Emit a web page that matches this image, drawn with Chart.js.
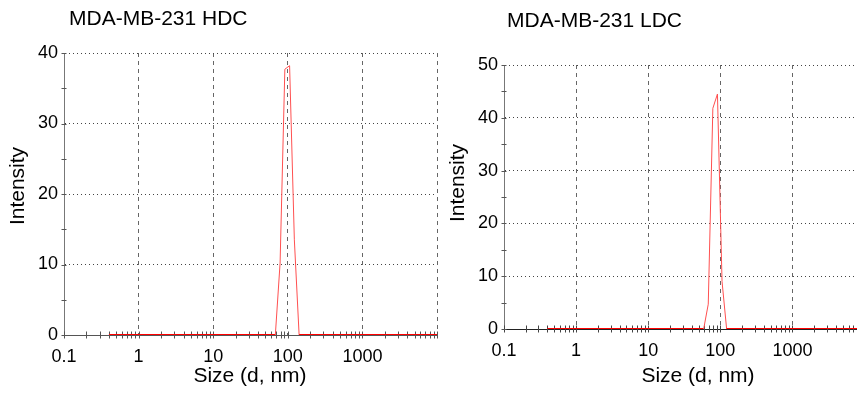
<!DOCTYPE html>
<html>
<head>
<meta charset="utf-8">
<script src="https://cdn.jsdelivr.net/npm/chart.js@4/dist/chart.umd.min.js"></script>
<style>
  html, body { margin: 0; padding: 0; background: #fff; overflow: hidden; }
  #wrap { position: relative; width: 857px; height: 394px; overflow: hidden; background: #fff; }
  .box { position: absolute; top: 0; height: 394px; }
</style>
</head>
<body>
<div id="wrap">
  <div class="box" style="left:0;width:448px"><canvas id="c1"></canvas></div>
  <div class="box" style="left:440px;width:417px"><canvas id="c2"></canvas></div>
</div>
<script>
// ---- data ----
const SIZES = [
  0.4, 0.4632, 0.5365, 0.6213, 0.7195, 0.8332, 0.9649, 1.117, 1.294, 1.499,
  1.736, 2.01, 2.328, 2.696, 3.122, 3.615, 4.187, 4.849, 5.615, 6.503,
  7.531, 8.721, 10.1, 11.7, 13.54, 15.69, 18.17, 21.04, 24.36, 28.21,
  32.67, 37.84, 43.82, 50.75, 58.77, 68.06, 78.82, 91.28, 105.7, 122.4,
  141.8, 164.2, 190.1, 220.2, 255.0, 295.3, 342.0, 396.1, 458.7, 531.2,
  615.1, 712.4, 825.0, 955.4, 1106, 1281, 1484, 1718, 1990, 2305,
  2669, 3091, 3580, 4145, 4801, 5560, 6439, 7456, 8635, 10000
];
const HDC_INTENSITY = [
  0, 0, 0, 0, 0, 0, 0, 0, 0, 0,
  0, 0, 0, 0, 0, 0, 0, 0, 0, 0,
  0, 0, 0, 0, 0, 0, 0, 0, 0, 0,
  0, 0, 0, 0, 0, 0, 10.2, 37.7, 38.2, 13.5,
  0, 0, 0, 0, 0, 0, 0, 0, 0, 0,
  0, 0, 0, 0, 0, 0, 0, 0, 0, 0,
  0, 0, 0, 0, 0, 0, 0, 0, 0, 0
];
const LDC_INTENSITY = [
  0, 0, 0, 0, 0, 0, 0, 0, 0, 0,
  0, 0, 0, 0, 0, 0, 0, 0, 0, 0,
  0, 0, 0, 0, 0, 0, 0, 0, 0, 0,
  0, 0, 0, 0, 0, 4.7, 41.8, 44.5, 9.0, 0,
  0, 0, 0, 0, 0, 0, 0, 0, 0, 0,
  0, 0, 0, 0, 0, 0, 0, 0, 0, 0,
  0, 0, 0, 0, 0, 0, 0, 0, 0, 0
];
const CHART_TITLES = ['MDA-MB-231 HDC', 'MDA-MB-231 LDC'];
const X_TITLE = 'Size (d, nm)';
const Y_TITLE = 'Intensity';
const X_TICK_VALUES = [0.1, 1, 10, 100, 1000, 10000];
const X_TICK_LABELS = ['0.1', '1', '10', '100', '1000', ''];
const HDC_Y_TICKS = [0, 10, 20, 30, 40];
const LDC_Y_TICKS = [0, 10, 20, 30, 40, 50];

const FONT = "'Liberation Sans', Arial, Helvetica, sans-serif";

// ---- decoration plugin: minor ticks and texts ----
const decor = {
  id: 'decor',
  beforeDatasetsDraw(chart, args, o) {
    const ctx = chart.ctx, xs = chart.scales.x, ys = chart.scales.y, a = chart.chartArea;
    ctx.save();
    ctx.lineWidth = 1;
    ctx.strokeStyle = o.xTickColor;
    ctx.beginPath();
    for (let d = xs.min; d < xs.max * 1.0001; d *= 10) {
      for (let k = 1; k <= 9; k++) {
        const v = d * k;
        if (v > xs.max * 1.0001) break;
        const px = Math.round(xs.getPixelForValue(v)) + 0.5;
        if (px > a.right + 1) break;
        ctx.moveTo(px, a.bottom - 3.5);
        ctx.lineTo(px, a.bottom + 3.5);
      }
    }
    ctx.stroke();
    ctx.strokeStyle = o.yTickColor;
    ctx.beginPath();
    const yt = ys.ticks.map(t => t.value);
    for (let i = 0; i < yt.length; i++) {
      const vals = [yt[i]];
      if (i + 1 < yt.length) vals.push((yt[i] + yt[i + 1]) / 2);
      for (const v of vals) {
        const py = Math.round(ys.getPixelForValue(v)) + 0.5;
        ctx.moveTo(a.left - 2.5, py);
        ctx.lineTo(a.left + 2.5, py);
      }
    }
    ctx.stroke();
    ctx.restore();
  },
  afterDraw(chart, args, o) {
    const ctx = chart.ctx;
    ctx.save();
    ctx.fillStyle = '#000';
    ctx.font = o.titleFont;
    ctx.textAlign = 'left';
    ctx.textBaseline = 'alphabetic';
    ctx.fillText(o.title, o.titlePos[0], o.titlePos[1]);
    ctx.font = o.axisFont;
    ctx.textAlign = 'center';
    ctx.fillText(o.xTitle, o.xTitlePos[0], o.xTitlePos[1]);
    ctx.translate(o.yTitlePos[0], o.yTitlePos[1]);
    ctx.rotate(-Math.PI / 2);
    ctx.textBaseline = 'middle';
    ctx.fillText(o.yTitle, 0, 0);
    ctx.restore();
  }
};

const isBase = c => c.p0.parsed.y === 0 && c.p1.parsed.y === 0;

function makeChart(id, values, yTicks, xMax, opts) {
  const pts = SIZES.map((s, i) => ({ x: s, y: values[i] }));
  return new Chart(document.getElementById(id), {
    type: 'line',
    data: {
      datasets: [{
        data: pts,
        borderColor: '#ff0000',
        borderWidth: 1,
        pointRadius: 0,
        tension: 0,
        fill: false,
        segment: {
          borderWidth: c => isBase(c) ? 2 : 1,
          borderColor: c => isBase(c) ? '#ff0000' : '#ff5050'
        }
      }]
    },
    options: {
      responsive: true,
      maintainAspectRatio: false,
      animation: false,
      devicePixelRatio: 1,
      layout: { padding: opts.padding },
      plugins: {
        legend: { display: false },
        tooltip: { enabled: false },
        title: { display: false },
        decor: opts.decor
      },
      scales: {
        x: {
          type: 'logarithmic',
          min: 0.1,
          max: xMax,
          afterBuildTicks: s => { s.ticks = X_TICK_VALUES.filter(v => v <= xMax * 1.0001).map(v => ({ value: v })); },
          afterFit: s => { s.height = opts.xHeight; },
          ticks: {
            autoSkip: false,
            maxRotation: 0,
            padding: 11,
            color: '#000',
            font: { family: FONT, size: 18 },
            callback: v => { const i = X_TICK_VALUES.findIndex(t => Math.abs(t - v) / t < 1e-6); return i >= 0 ? X_TICK_LABELS[i] : ''; }
          },
          grid: { color: '#666', lineWidth: 1, drawTicks: false },
          border: { display: true, color: opts.xAxisColor, width: 1, dash: [4, 4] },
          title: { display: false }
        },
        y: {
          type: 'linear',
          min: yTicks[0],
          max: yTicks[yTicks.length - 1],
          afterBuildTicks: s => { s.ticks = yTicks.map(v => ({ value: v })); },
          afterFit: s => { s.width = 64; },
          ticks: {
            padding: 6,
            color: '#000',
            font: { family: FONT, size: 18 },
            callback: v => String(v)
          },
          grid: { color: '#444', lineWidth: 1, drawTicks: false },
          border: { display: true, color: '#777', width: 1, dash: [1, 3] },
          title: { display: false }
        }
      }
    },
    plugins: [decor]
  });
}

makeChart('c1', HDC_INTENSITY, HDC_Y_TICKS, 10000, {
  padding: { left: 0, top: 53, right: 0, bottom: 0 },
  xHeight: 59,
  xAxisColor: '#555',
  decor: {
    title: CHART_TITLES[0], xTitle: X_TITLE, yTitle: Y_TITLE,
    titleFont: '21px ' + FONT, axisFont: '21px ' + FONT,
    titlePos: [69, 25], xTitlePos: [250, 382], yTitlePos: [18, 186],
    xTickColor: '#555', yTickColor: '#555'
  }
});
makeChart('c2', LDC_INTENSITY, LDC_Y_TICKS, 7870, {
  padding: { left: 0, top: 65, right: 0, bottom: 0 },
  xHeight: 65,
  xAxisColor: '#222',
  decor: {
    title: CHART_TITLES[1], xTitle: X_TITLE, yTitle: Y_TITLE,
    titleFont: '21px ' + FONT, axisFont: '21px ' + FONT,
    titlePos: [67, 27], xTitlePos: [258, 382], yTitlePos: [18, 183],
    xTickColor: '#444', yTickColor: '#555'
  }
});
</script>
</body>
</html>
